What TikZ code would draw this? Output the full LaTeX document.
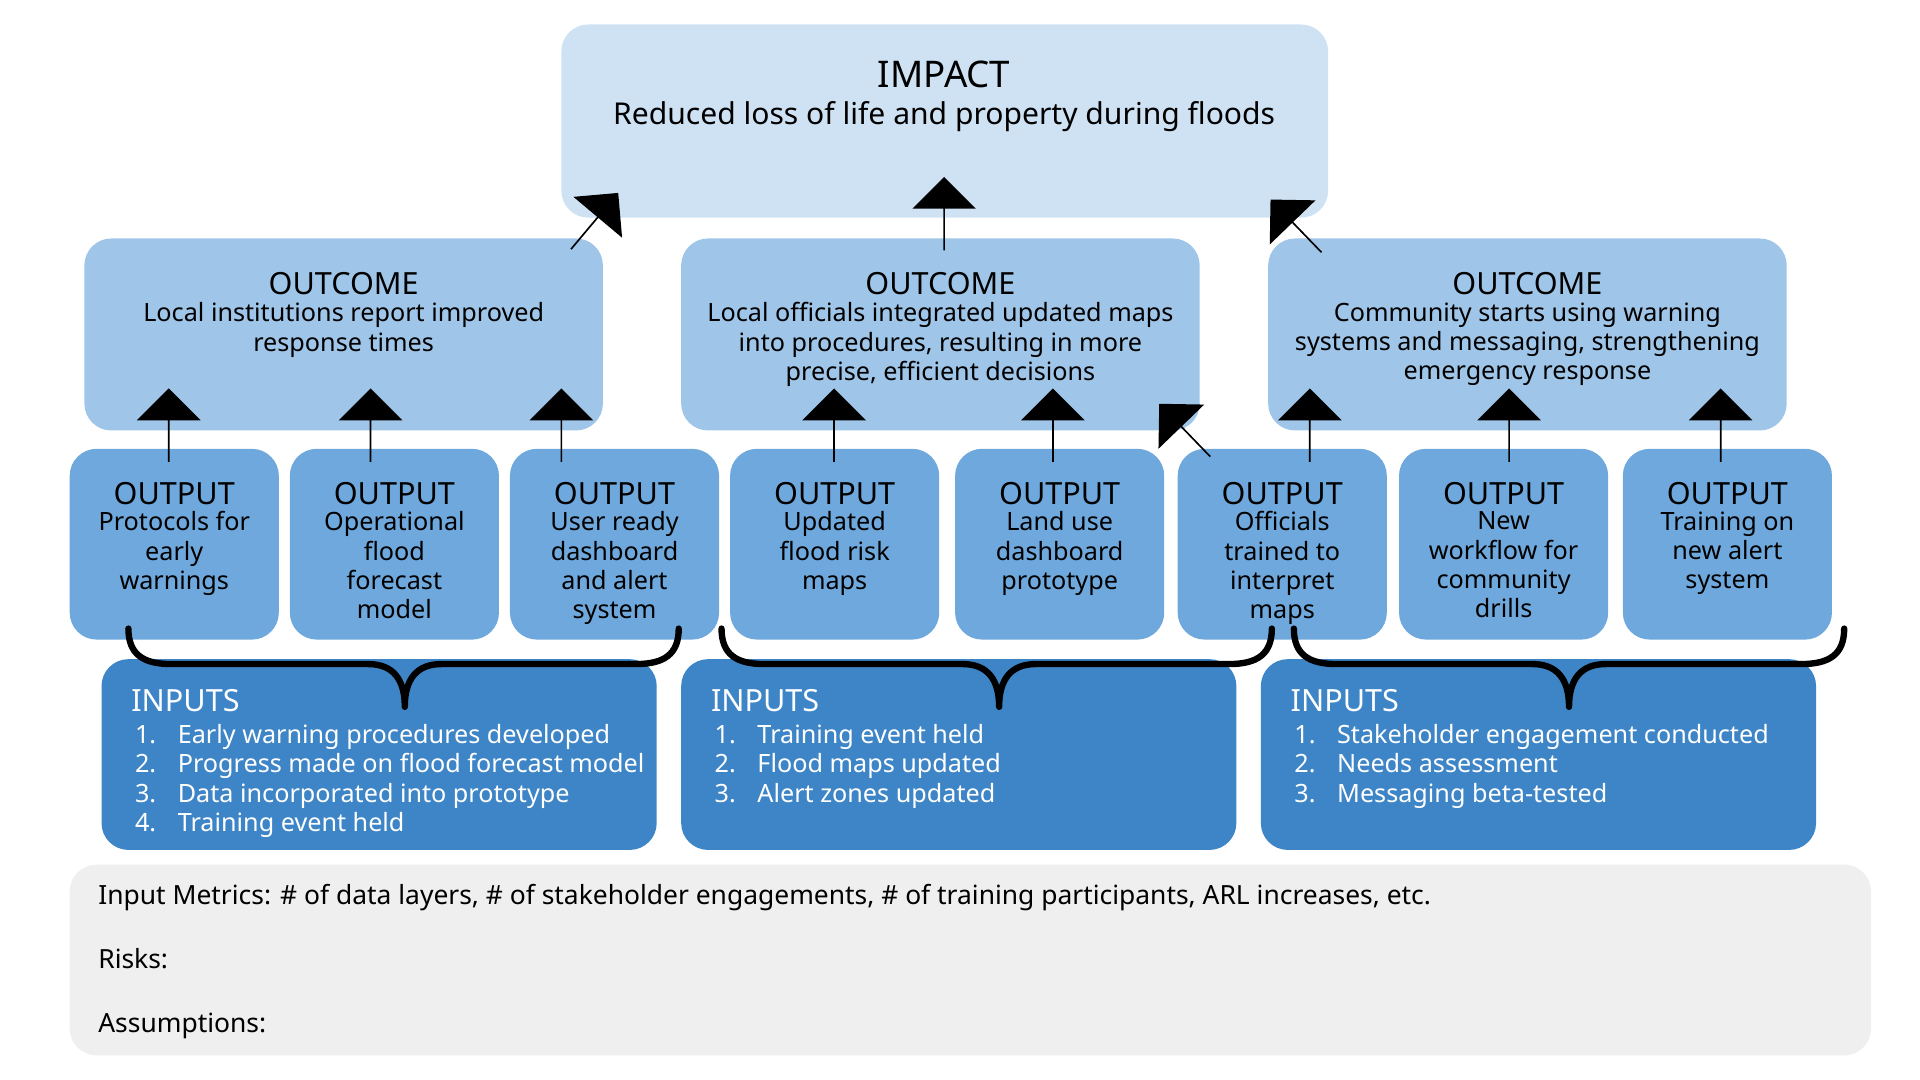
\documentclass[tikz,border=0pt]{standalone}
\usepackage{fontspec}
\setmainfont{Noto Sans}
\usetikzlibrary{shapes.arrows}
\definecolor{cimp}{HTML}{CFE2F3}
\definecolor{cout}{HTML}{9FC5E8}
\definecolor{cop}{HTML}{6FA8DC}
\definecolor{cin}{HTML}{3D85C6}
\definecolor{cbot}{HTML}{EFEFEF}
\begin{document}
\begin{tikzpicture}[x=0.5pt,y=-0.5pt,
 box/.style={rounded corners=11pt,inner sep=0pt},
 ttl/.style={font=\fontsize{12.5}{14}\selectfont\bfseries,inner sep=0pt},
 bt/.style={font=\fontsize{10.3}{12}\selectfont,align=center,inner sep=0pt,anchor=north},
 it/.style={font=\fontsize{10.3}{12}\selectfont,inner sep=0pt,anchor=base west,text=white},
 bar/.style={single arrow,fill=black,minimum width=26pt,single arrow head extend=7.5pt,minimum height=30pt,inner sep=0pt},
 br/.style={line width=2.6pt,line cap=round,line join=round}]
\useasboundingbox (0,0) rectangle (1570,883);
% impact
\fill[cimp,box] (459,20) rectangle (1086,178);
\node[ttl,font=\fontsize{15}{17}\selectfont\bfseries] (imp) at (772,61) {IMPACT};
\node[inner sep=0pt,font=\fontsize{12.3}{14}\selectfont] (impt) at (772,95) {Reduced loss of life and property during floods};
% outcomes
\foreach \n/\a/\t in {o1/69/{Local institutions report improved\\response times},
 o2/557/{Local officials integrated updated maps\\into procedures, resulting in more\\precise, efficient decisions},
 o3/1037/{Community starts using warning\\systems and messaging, strengthening\\emergency response}}{
 \fill[cout,box] (\a,195) rectangle ++(424,157);
 \node[ttl] (\n) at (\a+212,232) {OUTCOME};
 \node[bt] (\n t) at (\a+212,247) {\t};
}
% outputs
\foreach \n/\a/\t in {p1/57/{Protocols for\\early\\warnings},p2/237/{Operational\\flood\\forecast\\model},p3/417/{User ready\\dashboard\\and alert\\system},
 p4/597/{Updated\\flood risk\\maps},p5/781/{Land use\\dashboard\\prototype},p6/963/{Officials\\trained to\\interpret\\maps},
 p7/1144/{New\\workflow for\\community\\drills},p8/1327/{Training on\\new alert\\system}}{
 \fill[cop,box] (\a,367) rectangle ++(171,156);
 \node[ttl] (\n) at (\a+85.5,404) {OUTPUT};
 \node[bt] (\n t) at (\a+85.5,418) {\t};
}
% inputs
\foreach \n/\a in {i1/83,i2/557,i3/1031}{
 \fill[cin,box] (\a,539) rectangle ++(454,156);
 \node[ttl,text=white,anchor=base west] (\n) at (\a+24,582) {INPUTS};
}
\foreach \a/\k in {83/1,557/2,1031/3}{
 \ifcase\k\or
  \foreach \j/\s in {1/Early warning procedures developed,2/Progress made on flood forecast model,3/Data incorporated into prototype,4/Training event held}{
   \node[it] (n\k\j) at (\a+27,608+24*\j-24) {\j.}; \node[it] (t\k\j) at (\a+62,608+24*\j-24) {\s};}
 \or
  \foreach \j/\s in {1/Training event held,2/Flood maps updated,3/Alert zones updated}{
   \node[it] (n\k\j) at (\a+27,608+24*\j-24) {\j.}; \node[it] (t\k\j) at (\a+62,608+24*\j-24) {\s};}
 \or
  \foreach \j/\s in {1/Stakeholder engagement conducted,2/Needs assessment,3/Messaging beta-tested}{
   \node[it] (n\k\j) at (\a+27,608+24*\j-24) {\j.}; \node[it] (t\k\j) at (\a+62,608+24*\j-24) {\s};}
 \fi
}
% bottom
\fill[cbot,box] (57,707) rectangle (1530,863);
\node[inner sep=0pt,anchor=base west,font=\fontsize{10.8}{13}\selectfont] (m) at (80,740) {\textbf{Input Metrics:} \# of data layers, \# of stakeholder engagements, \# of training participants, ARL increases, etc.};
\node[inner sep=0pt,anchor=base west,font=\fontsize{10.8}{13}\selectfont\bfseries] (r) at (80,792) {Risks:};
\node[inner sep=0pt,anchor=base west,font=\fontsize{10.8}{13}\selectfont\bfseries] (as) at (80,844) {Assumptions:};
% braces
\foreach \l/\c/\r in {105/331/555,590/817/1040,1058/1283/1508}{
 \draw[br] (\l,514) .. controls (\l,535) and (\l+12,543) .. (\l+35,543) -- (\c-30,543)
   .. controls (\c-10,543) and (\c,555) .. (\c,578)
   .. controls (\c,555) and (\c+10,543) .. (\c+30,543) -- (\r-35,543)
   .. controls (\r-12,543) and (\r,535) .. (\r,514);
}
% arrows
\foreach \n/\x in {a1/138,a2/303,a3/459,a4/682,a5/861,a6/1071,a7/1234,a8/1407}
 \node[bar,rotate=90] (\n) at (\x,348) {};
\node[bar,rotate=90] (b2) at (772,175) {};
\node[bar,rotate=50] (b1) at (486,181) {};
\node[bar,rotate=134] (b3) at (1060,185) {};
\node[bar,rotate=134] (b4) at (969,352) {};
\end{tikzpicture}
\end{document}
